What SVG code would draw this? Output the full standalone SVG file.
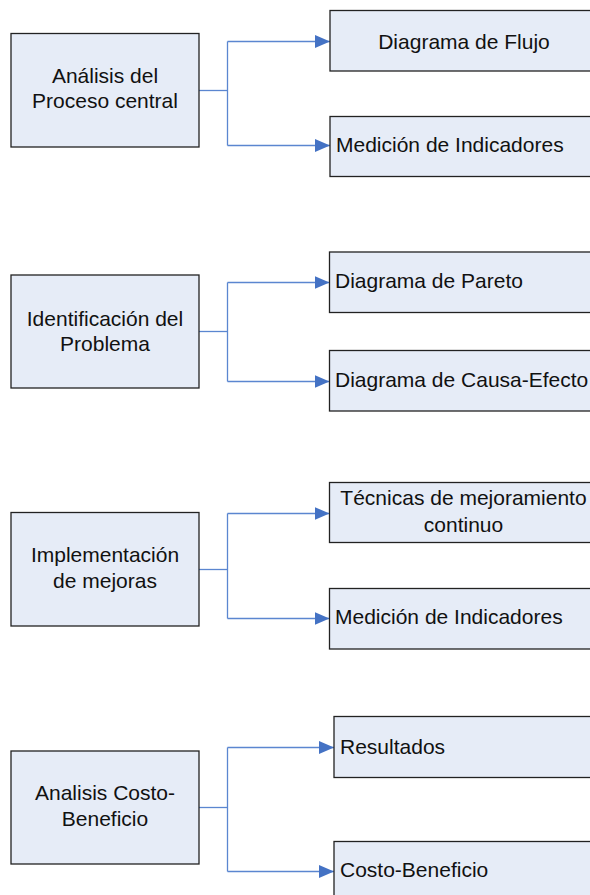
<svg xmlns="http://www.w3.org/2000/svg" width="590" height="895" viewBox="0 0 590 895">
<style>
.box{fill:#E6ECF7;stroke:#222222;stroke-width:1.3}
.t{font-family:"Liberation Sans",Arial,sans-serif;font-size:21px;fill:#111111}
.c{text-anchor:middle}
.ln{fill:none;stroke:#5B86D0;stroke-width:1.3}
</style>
<defs>
<marker id="arr" viewBox="0 0 15 13" refX="15" refY="6.5" markerWidth="15" markerHeight="13" markerUnits="userSpaceOnUse" orient="auto">
<path d="M0,0 L15,6.5 L0,13 z" fill="#4472C4"/>
</marker>
</defs>
<rect width="590" height="895" fill="#ffffff"/>
<g id="connectors">
<path class="ln" d="M199,90.5 H227.5"/>
<path class="ln" d="M227.5,41.5 V145.5"/>
<path class="ln" d="M227.5,41.5 H330" marker-end="url(#arr)"/>
<path class="ln" d="M227.5,145.5 H330" marker-end="url(#arr)"/>
<path class="ln" d="M199,331.5 H227.5"/>
<path class="ln" d="M227.5,282.5 V381.5"/>
<path class="ln" d="M227.5,282.5 H329.5" marker-end="url(#arr)"/>
<path class="ln" d="M227.5,381.5 H329.5" marker-end="url(#arr)"/>
<path class="ln" d="M199,569.5 H227.5"/>
<path class="ln" d="M227.5,513.5 V618.5"/>
<path class="ln" d="M227.5,513.5 H329.5" marker-end="url(#arr)"/>
<path class="ln" d="M227.5,618.5 H329.5" marker-end="url(#arr)"/>
<path class="ln" d="M199,807.5 H227.5"/>
<path class="ln" d="M227.5,747.5 V871.5"/>
<path class="ln" d="M227.5,747.5 H334" marker-end="url(#arr)"/>
<path class="ln" d="M227.5,871.5 H334" marker-end="url(#arr)"/>
</g>
<g id="n1">
<rect class="box" x="11" y="33.5" width="188" height="113.5"/>
<text class="t c" x="105" y="83">Análisis del</text>
<text class="t c" x="105" y="108">Proceso central</text>
</g>
<g id="n1a">
<rect class="box" x="330" y="10.5" width="268" height="60.5"/>
<text class="t c" x="464" y="48.5">Diagrama de Flujo</text>
</g>
<g id="n1b">
<rect class="box" x="330" y="116.5" width="268" height="60"/>
<text class="t" x="336" y="152">Medición de Indicadores</text>
</g>
<g id="n2">
<rect class="box" x="11" y="275" width="188" height="113"/>
<text class="t c" x="105" y="326">Identificación del</text>
<text class="t c" x="105" y="351">Problema</text>
</g>
<g id="n2a">
<rect class="box" x="329.5" y="252" width="268" height="60.5"/>
<text class="t" x="335" y="288">Diagrama de Pareto</text>
</g>
<g id="n2b">
<rect class="box" x="329.5" y="350.5" width="268" height="60.5"/>
<text class="t" x="335" y="387">Diagrama de Causa-Efecto</text>
</g>
<g id="n3">
<rect class="box" x="11" y="512.5" width="188" height="113.5"/>
<text class="t c" x="105" y="562">Implementación</text>
<text class="t c" x="105" y="587.5">de mejoras</text>
</g>
<g id="n3a">
<rect class="box" x="329.5" y="482.5" width="268" height="60"/>
<text class="t c" x="463.5" y="505">Técnicas de mejoramiento</text>
<text class="t c" x="463.5" y="531.5">continuo</text>
</g>
<g id="n3b">
<rect class="box" x="329.5" y="588.5" width="268" height="60.5"/>
<text class="t" x="335" y="624">Medición de Indicadores</text>
</g>
<g id="n4">
<rect class="box" x="11" y="751" width="188" height="113"/>
<text class="t c" x="105" y="800">Analisis Costo-</text>
<text class="t c" x="105" y="826">Beneficio</text>
</g>
<g id="n4a">
<rect class="box" x="334" y="716.5" width="264" height="61"/>
<text class="t" x="340" y="753.5">Resultados</text>
</g>
<g id="n4b">
<rect class="box" x="334" y="841.5" width="264" height="60.5"/>
<text class="t" x="340" y="877">Costo-Beneficio</text>
</g>
</svg>
